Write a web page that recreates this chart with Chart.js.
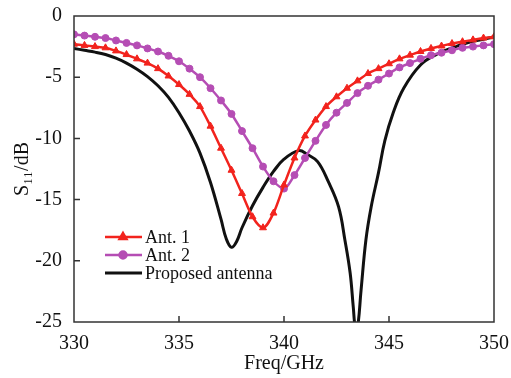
<!DOCTYPE html>
<html>
<head>
<meta charset="utf-8">
<script src="https://cdn.jsdelivr.net/npm/chart.js@4.4.1/dist/chart.umd.min.js"></script>
<style>
  html, body { margin: 0; padding: 0; background: #fff; }
</style>
</head>
<body>
<canvas id="myChart" width="511" height="378"></canvas>
<script>
const freq = [330, 330.5, 331, 331.5, 332, 332.5, 333, 333.5, 334, 334.5,
  335, 335.5, 336, 336.5, 337, 337.5, 338, 338.5, 339, 339.5,
  340, 340.5, 341, 341.5, 342, 342.5, 343, 343.5, 344, 344.5,
  345, 345.5, 346, 346.5, 347, 347.5, 348, 348.5, 349, 349.5, 350];

const ant1 = [-2.3, -2.4, -2.5, -2.6, -2.85, -3.15, -3.5, -3.85, -4.3, -4.9,
  -5.6, -6.4, -7.4, -9.0, -10.8, -12.6, -14.5, -16.4, -17.3, -16.1,
  -13.8, -11.6, -9.8, -8.5, -7.4, -6.6, -5.9, -5.3, -4.7, -4.3,
  -3.9, -3.5, -3.2, -2.9, -2.65, -2.45, -2.25, -2.1, -1.95, -1.8, -1.7];

const ant2 = [-1.5, -1.6, -1.7, -1.8, -2.0, -2.2, -2.4, -2.65, -2.9, -3.25,
  -3.7, -4.3, -5.0, -5.9, -6.9, -8.0, -9.4, -10.8, -12.3, -13.5,
  -14.1, -13.0, -11.6, -10.2, -8.9, -7.9, -7.1, -6.3, -5.7, -5.2,
  -4.7, -4.2, -3.85, -3.5, -3.2, -3.0, -2.8, -2.6, -2.5, -2.4, -2.3];

const freqProposed = [330, 330.5, 331, 331.5, 332, 332.5, 333, 333.5, 334, 334.5,
  335, 335.5, 336, 336.5, 337, 337.25, 337.5, 337.75, 338, 338.5,
  339, 339.5, 340, 340.7, 341.1, 341.6, 342.1, 342.6, 342.9, 343.15,
  343.3, 343.4, 343.5, 343.67, 343.9, 344.15, 344.5, 344.8, 345.2, 345.7,
  346.5, 347.3, 348, 348.9, 349.5, 350];

const proposed = [-2.65, -2.8, -2.95, -3.15, -3.45, -3.85, -4.35, -4.95, -5.7, -6.65,
  -7.9, -9.4, -11.2, -13.6, -16.6, -18.2, -18.9, -18.4, -17.3, -15.5,
  -14.0, -12.7, -11.7, -11.0, -11.3, -11.9, -13.5, -15.6, -18.3, -21.0,
  -23.8, -25.5, -25.5, -22.4, -18.3, -15.6, -12.8, -10.2, -7.9, -5.9,
  -4.0, -3.1, -2.6, -2.1, -1.9, -1.7];

const xTicks = [330, 335, 340, 345, 350];
const yTicks = [0, -5, -10, -15, -20, -25];

const serif = "'Liberation Serif', 'Times New Roman', serif";

function pts(xs, ys) {
  return xs.map((x, i) => ({ x: x, y: ys[i] }));
}

// box, inward ticks and the legend inside the plot
const frame = {
  id: 'frame',
  afterDraw(chart) {
    const ctx = chart.ctx;
    const a = chart.chartArea;
    const x = chart.scales.x, y = chart.scales.y;
    ctx.save();
    ctx.strokeStyle = '#333';
    ctx.lineWidth = 1.5;
    ctx.strokeRect(a.left, a.top, a.right - a.left, a.bottom - a.top);
    ctx.beginPath();
    xTicks.slice(1, -1).forEach(v => {
      const px = x.getPixelForValue(v);
      ctx.moveTo(px, a.bottom);
      ctx.lineTo(px, a.bottom - 6);
    });
    yTicks.slice(1, -1).forEach(v => {
      const py = y.getPixelForValue(v);
      ctx.moveTo(a.left, py);
      ctx.lineTo(a.left + 6, py);
    });
    ctx.stroke();

    // legend
    ctx.font = '18px ' + serif;
    ctx.textBaseline = 'middle';
    chart.data.datasets.forEach((ds, i) => {
      const ly = a.top + 221 + i * 18;
      const lx = a.left + 31;
      ctx.strokeStyle = ds.borderColor;
      ctx.lineWidth = ds.borderWidth;
      ctx.beginPath();
      ctx.moveTo(lx, ly);
      ctx.lineTo(lx + 37, ly);
      ctx.stroke();
      if (ds.pointRadius > 0) {
        ctx.fillStyle = ds.pointBackgroundColor;
        ctx.strokeStyle = ds.borderColor;
        Chart.helpers.drawPoint(ctx, {
          pointStyle: ds.pointStyle, radius: ds.pointRadius, rotation: 0, borderWidth: 1
        }, lx + 18, ly);
      }
      ctx.fillStyle = '#111';
      ctx.fillText(ds.label, lx + 40, ly + 1);
    });
    ctx.restore();
  }
};

new Chart(document.getElementById('myChart'), {
  type: 'line',
  data: {
    datasets: [{
      label: 'Ant. 1',
      data: pts(freq, ant1),
      borderColor: '#f2231d',
      backgroundColor: '#f2231d',
      pointBackgroundColor: '#f2231d',
      borderWidth: 2.5,
      pointStyle: 'triangle',
      pointRadius: 4,
      pointBorderWidth: 1,
      cubicInterpolationMode: 'monotone'
    },
    {
      label: 'Ant. 2',
      data: pts(freq, ant2),
      borderColor: '#b54db4',
      backgroundColor: '#b54db4',
      pointBackgroundColor: '#b54db4',
      borderWidth: 2.5,
      pointStyle: 'circle',
      pointRadius: 3.5,
      pointBorderWidth: 1,
      cubicInterpolationMode: 'monotone'
    },
    {
      label: 'Proposed antenna',
      data: pts(freqProposed, proposed),
      borderColor: '#111',
      backgroundColor: '#111',
      borderWidth: 3,
      pointRadius: 0,
      tension: 0.4,
      clip: 0
    }]
  },
  options: {
    responsive: false,
    animation: false,
    events: [],
    layout: { padding: { top: 14, right: 14, left: 0, bottom: 0 } },
    plugins: { legend: { display: false }, tooltip: { enabled: false } },
    scales: {
      x: {
        type: 'linear',
        min: 330,
        max: 350,
        afterFit(s) { s.height = 56; },
        afterBuildTicks(s) { s.ticks = xTicks.map(v => ({ value: v })); },
        grid: { display: false },
        border: { display: false },
        ticks: { color: '#111', font: { family: serif, size: 20 }, padding: 2, maxRotation: 0 },
        title: { display: true, text: 'Freq/GHz', color: '#111', font: { family: serif, size: 20 }, padding: { top: 0, bottom: 2 } }
      },
      y: {
        min: -25,
        max: 0,
        afterFit(s) { s.width = 74; },
        afterBuildTicks(s) { s.ticks = yTicks.map(v => ({ value: v })); },
        grid: { display: false },
        border: { display: false },
        ticks: { color: '#111', font: { family: serif, size: 20 }, padding: 4 },
        title: { display: true, text: 'S₁₁/dB', color: '#111', font: { family: serif, size: 20 }, padding: { top: 11, bottom: 0 } }
      }
    }
  },
  plugins: [frame]
});
</script>
</body>
</html>
